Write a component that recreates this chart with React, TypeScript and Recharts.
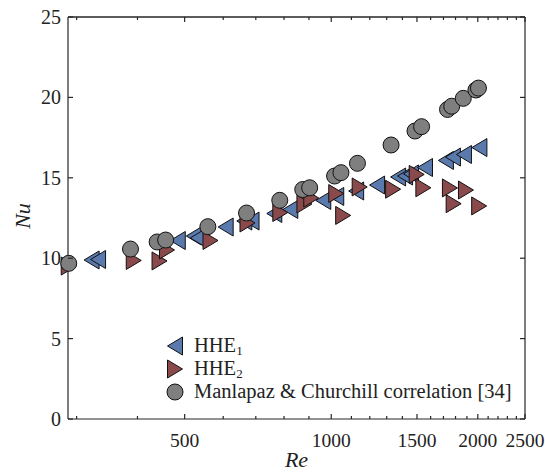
import { ScatterChart, Scatter, XAxis, YAxis, Legend, ReferenceLine } from 'recharts';

// Re / Nu
const hhe1Re = [322, 332, 484, 522, 532, 607, 663, 686, 764, 824, 963, 1024, 1125, 1242, 1372, 1418, 1458, 1558, 1720, 1778, 1873, 2015];
const hhe1Nu = [9.89, 9.92, 11.1, 11.38, 11.26, 11.94, 12.31, 12.31, 12.78, 13.03, 13.59, 13.84, 14.18, 14.55, 15.05, 15.11, 15.24, 15.64, 16.08, 16.29, 16.45, 16.88];

const hhe2Re = [289, 393, 444, 460, 565, 673, 786, 881, 910, 1024, 1058, 1144, 1340, 1498, 1546, 1753, 1784, 1891, 2013];
const hhe2Nu = [9.51, 9.86, 9.83, 10.51, 11.1, 12.19, 12.84, 13.37, 13.74, 14.02, 12.66, 14.43, 14.29, 15.21, 14.38, 14.37, 13.39, 14.24, 13.25];

const corrRe = [289, 387, 439, 457, 558, 670, 784, 874, 903, 1016, 1047, 1132, 1327, 1486, 1533, 1733, 1768, 1867, 1982, 2006];
const corrNu = [9.68, 10.57, 11.01, 11.13, 11.96, 12.81, 13.6, 14.27, 14.38, 15.11, 15.32, 15.9, 17.04, 17.91, 18.18, 19.25, 19.45, 19.94, 20.46, 20.58];

const majorRe = [500, 1000, 1500, 2000, 2500];
const allReTicks = [300, 400, 500, 600, 700, 800, 900, 1000, 1100, 1200, 1300, 1400, 1500, 1600, 1700, 1800, 1900, 2000, 2100, 2200, 2300, 2400, 2500];
const nuTicks = [0, 5, 10, 15, 20, 25];

const seriesLabels = ['HHE', 'HHE', 'Manlapaz & Churchill correlation [34]'];

const toPoints = (xs: number[], ys: number[]) => xs.map((re, i) => ({ re, nu: ys[i] }));

const BLUE = '#5a7aae';
const RED = '#8a4a4b';
const GREY = '#7f7f7f';
const EDGE = '#111111';
const AXIS = '#262626';
const FONT = 'Liberation Serif';
const PLOT_W = 457;
const PLOT_H = 402;

const LeftTri = (p: any) => (
  <polygon points={`${p.cx - 7.5},${p.cy} ${p.cx + 7.5},${p.cy - 9} ${p.cx + 7.5},${p.cy + 9}`} fill={BLUE} stroke={EDGE} strokeWidth={1} />
);
const RightTri = (p: any) => (
  <polygon points={`${p.cx + 7.5},${p.cy} ${p.cx - 7.5},${p.cy - 9} ${p.cx - 7.5},${p.cy + 9}`} fill={RED} stroke={EDGE} strokeWidth={1} />
);
const Dot = (p: any) => <circle cx={p.cx} cy={p.cy} r={8} fill={GREY} stroke={EDGE} strokeWidth={1} />;

// ticks point inward and are mirrored on the opposite side of the box
const BottomTick = ({ x, y, payload }: any) => {
  const len = majorRe.includes(payload.value) ? 5 : 3;
  return (
    <g>
      <line x1={x} x2={x} y1={y} y2={y - len} stroke={AXIS} strokeWidth={1.2} />
      <line x1={x} x2={x} y1={y - PLOT_H} y2={y - PLOT_H + len} stroke={AXIS} strokeWidth={1.2} />
      {len === 5 && (
        <text x={x} y={y + 28} textAnchor="middle" fontSize={19.5} fontFamily={FONT} fill="#222222">
          {payload.value}
        </text>
      )}
    </g>
  );
};
const LeftTick = ({ x, y, payload }: any) => (
  <g>
    <line x1={x} x2={x + 5} y1={y} y2={y} stroke={AXIS} strokeWidth={1.2} />
    <line x1={x + PLOT_W} x2={x + PLOT_W - 5} y1={y} y2={y} stroke={AXIS} strokeWidth={1.2} />
    <text x={x - 7} y={y + 7} textAnchor="end" fontSize={20} fontFamily={FONT} fill="#222222">
      {payload.value}
    </text>
  </g>
);

const ReLabel = ({ viewBox }: any) => (
  <text x={viewBox.x + viewBox.width / 2} y={467} textAnchor="middle" fontSize={22} fontFamily={FONT} fontStyle="italic" fill="#222222">
    Re
  </text>
);
const NuLabel = () => (
  <text x={0} y={0} transform="translate(30 216) rotate(-90)" textAnchor="middle" fontSize={22} fontFamily={FONT} fontStyle="italic" fill="#222222">
    Nu
  </text>
);

const renderLegend = () => (
  <svg width={370} height={76} style={{ display: 'block' }}>
    <LeftTri cx={15} cy={16} />
    <RightTri cx={15} cy={39} />
    <Dot cx={15} cy={62} />
    <text x={34} y={22} fontSize={20.5} fontFamily={FONT} fill="#222222">
      {seriesLabels[0]}<tspan dy={3} fontSize={13}>1</tspan>
    </text>
    <text x={34} y={45} fontSize={20.5} fontFamily={FONT} fill="#222222">
      {seriesLabels[1]}<tspan dy={3} fontSize={13}>2</tspan>
    </text>
    <text x={34} y={68} fontSize={20.5} fontFamily={FONT} fill="#222222">
      {seriesLabels[2]}
    </text>
  </svg>
);

export default function App() {
  return (
    <div style={{ position: 'absolute', left: 0, top: 0, background: '#fff' }}>
      <ScatterChart width={545} height={473} margin={{ top: 17, right: 20, bottom: 0, left: 0 }}>
        <XAxis
          xAxisId="b"
          dataKey="re"
          type="number"
          scale="log"
          domain={[288, 2500]}
          ticks={allReTicks}
          interval={0}
          height={54}
          tickSize={0}
          tickMargin={0}
          tickLine={false}
          axisLine={{ stroke: AXIS, strokeWidth: 1.2 }}
          tick={BottomTick}
          label={<ReLabel />}
        />
        <YAxis
          yAxisId="l"
          dataKey="nu"
          type="number"
          domain={[0, 25]}
          ticks={nuTicks}
          interval={0}
          width={68}
          tickSize={0}
          tickMargin={0}
          tickLine={false}
          axisLine={{ stroke: AXIS, strokeWidth: 1.2 }}
          tick={LeftTick}
          label={<NuLabel />}
        />
        <ReferenceLine xAxisId="b" yAxisId="l" y={25} ifOverflow="visible" stroke={AXIS} strokeWidth={1.5} />
        <ReferenceLine xAxisId="b" yAxisId="l" x={2500} ifOverflow="visible" stroke={AXIS} strokeWidth={1.2} />
        <Scatter xAxisId="b" yAxisId="l" data={toPoints(hhe1Re, hhe1Nu)} shape={LeftTri} isAnimationActive={false} />
        <Scatter xAxisId="b" yAxisId="l" data={toPoints(hhe2Re, hhe2Nu)} shape={RightTri} isAnimationActive={false} />
        <Scatter xAxisId="b" yAxisId="l" data={toPoints(corrRe, corrNu)} shape={Dot} isAnimationActive={false} />
        <Legend
          layout="vertical"
          align="center"
          verticalAlign="middle"
          content={renderLegend}
          wrapperStyle={{ left: 160, top: 330, width: 370, height: 76 }}
        />
      </ScatterChart>
    </div>
  );
}
